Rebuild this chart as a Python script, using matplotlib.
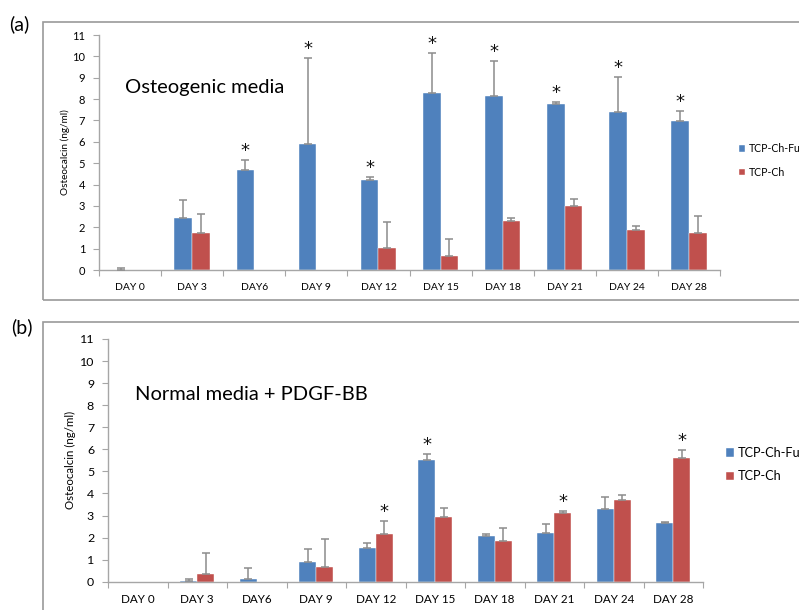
import numpy as np
import matplotlib
matplotlib.use("Agg")
import matplotlib.pyplot as plt
from matplotlib.patches import Rectangle

plt.rcParams['font.family'] = ['Lato', 'DejaVu Sans']

days = ["DAY 0", "DAY 3", "DAY6", "DAY 9", "DAY 12", "DAY 15", "DAY 18", "DAY 21", "DAY 24", "DAY 28"]
series = ["TCP-Ch-Fu", "TCP-Ch"]

# Panel (a) Osteogenic media
a_fu = [0.02, 2.42, 4.68, 5.92, 4.22, 8.27, 8.16, 7.76, 7.41, 6.98]
a_fu_err = [0.08, 0.88, 0.47, 4.0, 0.11, 1.87, 1.62, 0.12, 1.64, 0.46]
a_ch = [0.02, 1.72, 0.01, 0.01, 1.02, 0.64, 2.31, 3.01, 1.86, 1.75]
a_ch_err = [0.0, 0.9, 0.0, 0.0, 1.22, 0.81, 0.11, 0.33, 0.21, 0.78]
a_star_fu = [2, 3, 4, 5, 6, 7, 8, 9]
a_star_ch = []

# Panel (b) Normal media + PDGF-BB
b_fu = [0.0, 0.01, 0.1, 0.9, 1.52, 5.52, 2.07, 2.22, 3.28, 2.67]
b_fu_err = [0.0, 0.09, 0.52, 0.6, 0.24, 0.25, 0.09, 0.38, 0.56, 0.05]
b_ch = [0.0, 0.35, 0.0, 0.68, 2.18, 2.92, 1.83, 3.1, 3.69, 5.59]
b_ch_err = [0.0, 0.96, 0.0, 1.26, 0.59, 0.42, 0.62, 0.09, 0.24, 0.37]
b_star_fu = [5]
b_star_ch = [4, 7, 9]

BLUE = "#4F81BD"
RED = "#C0504D"
GREY = "#8C8C8C"
AX_GREY = "#A6A6A6"

W, H = 799, 610
fig = plt.figure(figsize=(W / 100, H / 100), dpi=100)


def fx(px):
    return px / W


def fy(py):
    return 1 - py / H


def panel(rect_px, fu, fu_err, ch, ch_err, star_fu, star_ch, title, title_xy, fs_tick, fs_ylab,
          fs_leg, leg_xy, leg_gap, ylab_x):
    x0, x1, ytop, ybot = rect_px
    ax = fig.add_axes([fx(x0), fy(ybot), fx(x1 - x0), (ybot - ytop) / H])
    n = len(days)
    x = np.arange(n)
    bw = 0.285
    bars = []
    for vals, errs, off, col in [(fu, fu_err, -bw / 2, BLUE), (ch, ch_err, bw / 2, RED)]:
        b = ax.bar(x + off, vals, width=bw, color=col, edgecolor="white", linewidth=0.3, zorder=2)
        bars.append(b)
        vals_a = np.asarray(vals)
        errs_a = np.asarray(errs)
        m = errs_a > 0
        ax.errorbar((x + off)[m], vals_a[m], yerr=[np.zeros(m.sum()), errs_a[m]], fmt="none",
                    ecolor=GREY, elinewidth=1.1, capsize=3, capthick=1.1, zorder=3)
    for idxs, vals, errs, off in [(star_fu, fu, fu_err, -bw / 2), (star_ch, ch, ch_err, bw / 2)]:
        for i in idxs:
            ax.annotate("*", (x[i] + off, vals[i] + errs[i]), xytext=(0, 0),
                        textcoords="offset points", ha="center", va="bottom",
                        fontsize=13, family="DejaVu Sans", color="#111111")
    ax.set_xlim(-0.5, n - 0.5)
    ax.set_ylim(0, 11)
    ax.set_yticks(range(0, 12))
    ax.set_xticks(np.arange(-0.5, n, 1.0))
    ax.set_xticklabels([])
    ax.set_xticks(x, minor=True)
    ax.set_xticklabels(days, minor=True, fontsize=fs_tick)
    ax.tick_params(axis="x", which="major", length=4, color=AX_GREY, direction="out")
    ax.tick_params(axis="x", which="minor", length=0, pad=9)
    ax.tick_params(axis="y", length=4, color=AX_GREY, labelsize=fs_tick + 0.5, pad=6)
    for s in ["top", "right"]:
        ax.spines[s].set_visible(False)
    for s in ["left", "bottom"]:
        ax.spines[s].set_color(AX_GREY)
        ax.spines[s].set_linewidth(1.0)
    ax.patch.set_alpha(0)
    fig.text(fx(ylab_x), fy((ytop + ybot) / 2), "Osteocalcin (ng/ml)", rotation=90,
             ha="center", va="center", fontsize=fs_ylab)
    fig.text(fx(title_xy[0]), fy(title_xy[1]), title, ha="left", va="center", fontsize=14.5)
    fig.legend(bars, series, loc="upper left",
               bbox_to_anchor=(fx(leg_xy[0]), fy(leg_xy[1])), frameon=False,
               fontsize=fs_leg, handlelength=0.6, handleheight=0.6, handletextpad=0.3,
               labelspacing=leg_gap, borderaxespad=0, borderpad=0)
    return ax


panel((99, 720, 35, 270), a_fu, a_fu_err, a_ch, a_ch_err, a_star_fu, a_star_ch,
      "Osteogenic media", (125, 87), 7.5, 7.2, 7.6, (739, 143), 1.2, 65)
panel((108, 703, 339, 581.7), b_fu, b_fu_err, b_ch, b_ch_err, b_star_fu, b_star_ch,
      "Normal media + PDGF-BB", (135, 395), 8.4, 8.3, 9.2, (726, 447), 0.9, 70)

# panel frames
fig.patches.append(Rectangle((fx(43), fy(300)), fx(W + 10 - 43), (300 - 22) / H,
                             transform=fig.transFigure, fill=False, edgecolor="#9A9A9A",
                             linewidth=1.2, zorder=0))
fig.patches.append(Rectangle((fx(43), fy(H + 10)), fx(W + 10 - 43), (H + 10 - 322) / H,
                             transform=fig.transFigure, fill=False, edgecolor="#9A9A9A",
                             linewidth=1.2, zorder=0))
fig.text(fx(9), fy(24), "(a)", ha="left", va="center", fontsize=14)
fig.text(fx(11), fy(327), "(b)", ha="left", va="center", fontsize=14)

fig.savefig("out.png", dpi=100)
